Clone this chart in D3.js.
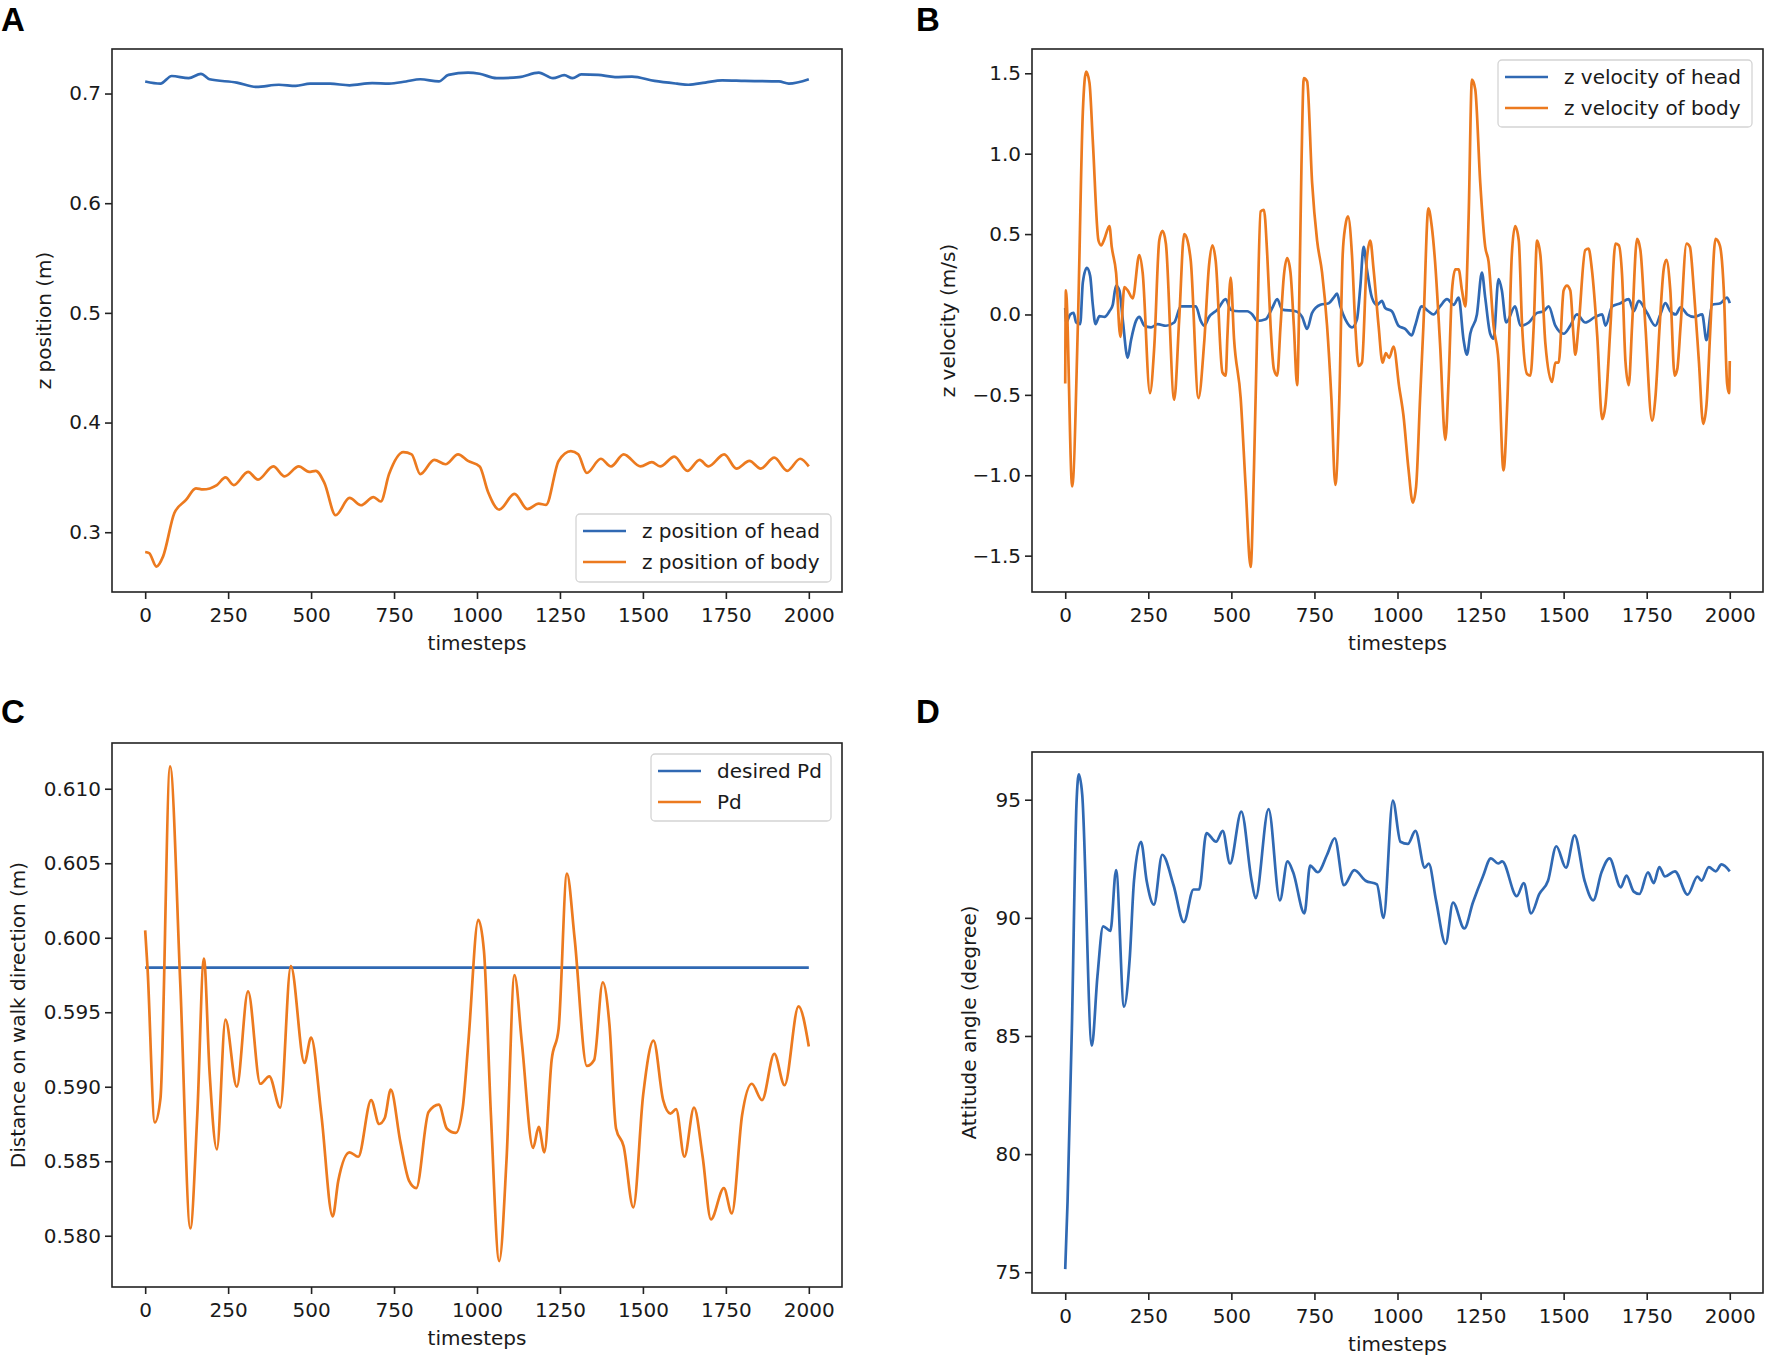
<!DOCTYPE html>
<html>
<head>
<meta charset="utf-8">
<script src="https://cdn.jsdelivr.net/npm/d3@7"></script>
<style>
  body { margin: 0; background: #fff; }
  svg { display: block; }
</style>
</head>
<body>
<div id="fig"></div>
<script>
// ---- data ----
const xTicks = [0, 250, 500, 750, 1000, 1250, 1500, 1750, 2000]

// A: z position
const headPosT = [0, 46, 80, 131, 168, 194, 276, 335, 403, 454, 497, 557, 616, 684, 735, 786, 829, 885, 914, 973, 1008, 1059, 1127, 1186, 1229, 1263, 1288, 1314, 1365, 1416, 1467, 1535, 1603, 1637, 1688, 1739, 1807, 1910, 1940, 2000]
const headPosZ = [0.711, 0.709, 0.716, 0.714, 0.718, 0.713, 0.710, 0.706, 0.708, 0.707, 0.709, 0.709, 0.7075, 0.7095, 0.709, 0.711, 0.713, 0.711, 0.717, 0.719, 0.718, 0.714, 0.715, 0.719, 0.714, 0.7167, 0.714, 0.7175, 0.717, 0.715, 0.7155, 0.7115, 0.709, 0.708, 0.710, 0.712, 0.7115, 0.711, 0.709, 0.713]
const bodyPosT = [0, 12, 34, 54, 88, 123, 153, 174, 216, 242, 267, 310, 340, 386, 420, 463, 494, 514, 540, 574, 616, 650, 688, 710, 735, 778, 803, 829, 871, 905, 943, 973, 1008, 1033, 1067, 1113, 1152, 1186, 1208, 1246, 1283, 1305, 1331, 1373, 1404, 1442, 1493, 1527, 1552, 1595, 1634, 1671, 1697, 1745, 1782, 1821, 1855, 1896, 1935, 1974, 2000]
const bodyPosZ = [0.282, 0.281, 0.2687, 0.278, 0.3175, 0.3294, 0.340, 0.339, 0.343, 0.350, 0.343, 0.355, 0.348, 0.360, 0.351, 0.360, 0.355, 0.356, 0.345, 0.3155, 0.3313, 0.3246, 0.332, 0.328, 0.353, 0.373, 0.371, 0.353, 0.366, 0.362, 0.371, 0.365, 0.360, 0.337, 0.3206, 0.335, 0.321, 0.326, 0.325, 0.365, 0.374, 0.371, 0.354, 0.367, 0.360, 0.371, 0.360, 0.364, 0.360, 0.369, 0.356, 0.366, 0.360, 0.371, 0.358, 0.365, 0.358, 0.368, 0.356, 0.367, 0.360]
const posTicks = [0.3, 0.4, 0.5, 0.6, 0.7]

// B: z velocity
const headVelT = [0, 3, 15, 25, 33, 45, 53, 65, 75, 83, 91, 103, 118, 133, 143, 153, 163, 173, 188, 198, 213, 223, 238, 258, 278, 303, 328, 348, 373, 393, 408, 418, 433, 458, 483, 498, 523, 548, 563, 578, 603, 623, 638, 653, 693, 713, 728, 743, 768, 793, 808, 818, 828, 843, 863, 878, 888, 898, 908, 923, 938, 953, 963, 983, 1003, 1023, 1043, 1053, 1073, 1093, 1108, 1128, 1149, 1169, 1184, 1199, 1209, 1219, 1239, 1254, 1264, 1279, 1289, 1304, 1314, 1327, 1354, 1370, 1395, 1420, 1440, 1455, 1475, 1500, 1520, 1540, 1565, 1595, 1616, 1626, 1646, 1671, 1696, 1711, 1726, 1751, 1776, 1791, 1806, 1821, 1837, 1852, 1872, 1892, 1917, 1930, 1947, 1972, 1992, 2000]
const headVelV = [0.04, -0.05, 0.0, 0.01, -0.05, -0.06, 0.2, 0.29, 0.24, 0.06, -0.06, -0.01, -0.015, 0.02, 0.06, 0.18, 0.15, -0.03, -0.27, -0.16, -0.04, -0.015, -0.07, -0.08, -0.06, -0.07, -0.05, 0.05, 0.05, 0.05, -0.04, -0.07, -0.015, 0.03, 0.095, 0.03, 0.02, 0.02, 0.0, -0.04, -0.03, 0.04, 0.095, 0.03, 0.02, -0.015, -0.09, 0.01, 0.06, 0.07, 0.105, 0.13, 0.05, -0.03, -0.08, -0.03, 0.17, 0.42, 0.28, 0.105, 0.06, 0.085, 0.04, 0.02, -0.07, -0.09, -0.13, -0.07, 0.05, 0.02, 0.0, 0.05, 0.095, 0.06, 0.105, -0.16, -0.25, -0.12, 0.0, 0.26, 0.105, -0.12, -0.15, 0.22, 0.15, -0.05, 0.05, -0.07, -0.05, 0.01, 0.02, 0.05, -0.07, -0.12, -0.07, 0.0, -0.05, -0.015, 0.0, -0.07, 0.05, 0.07, 0.095, 0.02, 0.085, 0.01, -0.07, 0.0, 0.07, 0.02, 0.0, 0.045, 0.0, -0.015, 0.0, -0.16, 0.06, 0.07, 0.105, 0.07]
const bodyVelT = [0, 2, 21, 38, 53, 63, 73, 83, 100, 108, 118, 133, 140, 153, 166, 178, 188, 203, 223, 233, 255, 268, 283, 293, 303, 328, 343, 358, 368, 378, 401, 418, 433, 443, 453, 473, 483, 488, 498, 508, 528, 543, 558, 568, 578, 588, 598, 608, 618, 628, 638, 648, 658, 668, 678, 688, 698, 703, 711, 718, 728, 743, 758, 773, 788, 801, 813, 825, 835, 843, 851, 863, 873, 883, 893, 908, 918, 928, 943, 955, 965, 975, 988, 1005, 1018, 1033, 1046, 1056, 1068, 1078, 1093, 1103, 1113, 1128, 1144, 1154, 1164, 1174, 1184, 1194, 1204, 1214, 1224, 1234, 1249, 1264, 1274, 1289, 1304, 1319, 1331, 1344, 1354, 1365, 1375, 1390, 1400, 1410, 1420, 1430, 1445, 1465, 1475, 1485, 1500, 1510, 1520, 1530, 1535, 1545, 1565, 1575, 1585, 1601, 1616, 1626, 1641, 1656, 1666, 1676, 1686, 1696, 1706, 1721, 1731, 1746, 1766, 1776, 1789, 1801, 1809, 1821, 1834, 1842, 1852, 1870, 1880, 1892, 1907, 1920, 1930, 1942, 1957, 1970, 1982, 1992, 1998, 2000]
const bodyVelV = [-0.43, 0.15, -1.07, -0.07, 1.26, 1.51, 1.44, 1.08, 0.46, 0.43, 0.47, 0.55, 0.42, 0.26, -0.14, 0.17, 0.15, 0.10, 0.37, 0.26, -0.49, -0.20, 0.46, 0.52, 0.44, -0.53, -0.03, 0.50, 0.46, 0.33, -0.52, -0.18, 0.31, 0.43, 0.33, -0.36, -0.38, -0.14, 0.23, -0.15, -0.52, -1.07, -1.57, -0.96, -0.07, 0.64, 0.65, 0.37, -0.07, -0.34, -0.38, -0.07, 0.24, 0.35, 0.26, -0.07, -0.44, -0.07, 0.93, 1.47, 1.45, 0.82, 0.46, 0.26, -0.07, -0.52, -1.06, -0.52, 0.37, 0.55, 0.61, 0.37, -0.07, -0.32, -0.30, 0.35, 0.46, 0.28, -0.07, -0.30, -0.24, -0.27, -0.20, -0.45, -0.63, -0.96, -1.17, -1.07, -0.52, -0.07, 0.66, 0.55, 0.33, -0.18, -0.78, -0.40, 0.15, 0.28, 0.28, 0.15, 0.05, 0.60, 1.46, 1.40, 0.82, 0.42, 0.33, -0.07, -0.29, -0.97, -0.52, 0.37, 0.55, 0.46, -0.07, -0.37, -0.38, -0.07, 0.46, 0.37, -0.18, -0.42, -0.30, -0.30, 0.15, 0.18, 0.15, -0.14, -0.25, -0.07, 0.40, 0.41, 0.28, -0.13, -0.65, -0.56, -0.07, 0.44, 0.43, 0.24, -0.29, -0.44, -0.07, 0.47, 0.40, -0.07, -0.66, -0.52, -0.07, 0.28, 0.34, 0.15, -0.38, -0.34, -0.07, 0.44, 0.42, 0.15, -0.29, -0.68, -0.56, -0.07, 0.47, 0.43, 0.15, -0.43, -0.49, -0.29]
const velTicks = [-1.5, -1.0, -0.5, 0.0, 0.5, 1.0, 1.5]

// C: distance on walk direction
const desiredPdT = [0, 2000]
const desiredPdV = [0.598, 0.598]
const pdT = [0, 7, 29, 46, 75, 106, 136, 157, 177, 194, 216, 242, 276, 310, 347, 374, 407, 439, 480, 500, 531, 565, 582, 616, 642, 681, 705, 722, 740, 769, 795, 817, 854, 885, 909, 936, 957, 974, 1004, 1021, 1042, 1067, 1089, 1113, 1135, 1169, 1186, 1203, 1225, 1246, 1271, 1294, 1331, 1353, 1379, 1399, 1419, 1442, 1471, 1501, 1532, 1561, 1583, 1600, 1625, 1654, 1680, 1705, 1744, 1768, 1799, 1828, 1859, 1896, 1927, 1969, 2000]
const pdV = [0.6005, 0.598, 0.5876, 0.5892, 0.6115, 0.5968, 0.5805, 0.5881, 0.5986, 0.591, 0.5858, 0.5945, 0.590, 0.5964, 0.5902, 0.5907, 0.5886, 0.5981, 0.5916, 0.5933, 0.5881, 0.5813, 0.5837, 0.5856, 0.5853, 0.5891, 0.5875, 0.5879, 0.5898, 0.5863, 0.5837, 0.5832, 0.5883, 0.5888, 0.5872, 0.5869, 0.5886, 0.5930, 0.6012, 0.5991, 0.5881, 0.5783, 0.5851, 0.5975, 0.5930, 0.5859, 0.5873, 0.5856, 0.5918, 0.5939, 0.6043, 0.6000, 0.5914, 0.5918, 0.5970, 0.5942, 0.5872, 0.5860, 0.5819, 0.5895, 0.5931, 0.5891, 0.5882, 0.5885, 0.5853, 0.5886, 0.5853, 0.5811, 0.5832, 0.5815, 0.5881, 0.5902, 0.5891, 0.5922, 0.5901, 0.5954, 0.5927]
const pdTicks = [0.580, 0.585, 0.590, 0.595, 0.600, 0.605, 0.610]

// D: attitude angle
const angleT = [0, 7, 20, 34, 41, 51, 80, 97, 114, 136, 153, 177, 194, 207, 228, 245, 267, 292, 326, 357, 386, 403, 425, 454, 474, 496, 530, 561, 573, 612, 646, 669, 686, 720, 737, 760, 788, 811, 839, 870, 904, 938, 958, 986, 1009, 1031, 1054, 1082, 1094, 1116, 1145, 1167, 1201, 1227, 1257, 1281, 1303, 1315, 1359, 1380, 1402, 1427, 1453, 1478, 1507, 1533, 1563, 1589, 1614, 1638, 1672, 1689, 1711, 1728, 1754, 1771, 1788, 1805, 1835, 1873, 1903, 1915, 1937, 1958, 1975, 2000]
const angleV = [75.13, 77.98, 85.32, 94.87, 96.07, 95.24, 84.59, 87.53, 89.64, 89.45, 92.02, 86.24, 88.26, 91.57, 93.22, 91.57, 90.56, 92.67, 91.38, 89.82, 91.20, 91.20, 93.59, 93.22, 93.68, 92.30, 94.50, 91.57, 90.83, 94.60, 90.74, 92.39, 91.93, 90.19, 92.21, 91.93, 92.67, 93.37, 91.38, 92.02, 91.57, 91.42, 90.00, 94.96, 93.22, 93.13, 93.68, 92.12, 92.30, 90.74, 88.90, 90.65, 89.55, 90.65, 91.75, 92.52, 92.30, 92.39, 90.92, 91.47, 90.19, 91.01, 91.57, 93.03, 92.12, 93.49, 91.57, 90.74, 91.93, 92.52, 91.29, 91.79, 91.11, 91.01, 91.93, 91.47, 92.15, 91.75, 91.97, 90.98, 91.75, 91.57, 92.15, 91.97, 92.26, 91.97]
const angleTicks = [75, 80, 85, 90, 95]

const blue = "#3069b3"
const orange = "#ec7a1f"
const font = "DejaVu Sans, sans-serif"
const fs = 20

const zip = (ts, vs) => ts.map((t, i) => [t, vs[i]])

const panels = [
    {
        letter: "A", lx: 1, ly: 31,
        left: 112, right: 842, top: 49, bottom: 592,
        yDomain: [0.2455, 0.7406], yTicks: posTicks, yFmt: d3.format(".1f"),
        ylabel: "z position (m)", ylabelX: 51,
        series: [
            { name: "z position of head", data: zip(headPosT, headPosZ), color: blue },
            { name: "z position of body", data: zip(bodyPosT, bodyPosZ), color: orange }
        ],
        legend: { x: 576, y: 514, w: 255, h: 68 }
    },
    {
        letter: "B", lx: 916, ly: 31,
        left: 1032, right: 1763, top: 49, bottom: 592,
        yDomain: [-1.726, 1.651], yTicks: velTicks, yFmt: d3.format(".1f"),
        ylabel: "z velocity (m/s)", ylabelX: 955,
        series: [
            { name: "z velocity of head", data: zip(headVelT, headVelV), color: blue },
            { name: "z velocity of body", data: zip(bodyVelT, bodyVelV), color: orange }
        ],
        legend: { x: 1498, y: 60, w: 254, h: 67 }
    },
    {
        letter: "C", lx: 1, ly: 723,
        left: 112, right: 842, top: 743, bottom: 1287,
        yDomain: [0.57656, 0.61307], yTicks: pdTicks, yFmt: d3.format(".3f"),
        ylabel: "Distance on walk direction (m)", ylabelX: 25,
        series: [
            { name: "desired Pd", data: zip(desiredPdT, desiredPdV), color: blue },
            { name: "Pd", data: zip(pdT, pdV), color: orange }
        ],
        legend: { x: 651, y: 754, w: 180, h: 67 }
    },
    {
        letter: "D", lx: 916, ly: 723,
        left: 1032, right: 1763, top: 752, bottom: 1293,
        yDomain: [74.12, 97.02], yTicks: angleTicks, yFmt: d3.format("d"),
        ylabel: "Attitude angle (degree)", ylabelX: 976,
        series: [
            { name: "attitude", data: zip(angleT, angleV), color: blue }
        ],
        legend: null
    }
]

const svg = d3.select("#fig").append("svg")
    .attr("width", 1772)
    .attr("height", 1362)
    .style("font-family", font)

const drawPanel = (p, idx) => {
    let x = d3.scaleLinear().domain([-100, 2100]).range([p.left, p.right])
    let y = d3.scaleLinear().domain(p.yDomain).range([p.bottom, p.top])

    let g = svg.append("g")

    g.append("clipPath").attr("id", "clip" + idx)
        .append("rect")
        .attr("x", p.left).attr("y", p.top)
        .attr("width", p.right - p.left).attr("height", p.bottom - p.top)

    // curves
    let line = d3.line()
        .x(d => x(d[0]))
        .y(d => y(d[1]))
        .curve(d3.curveMonotoneX)

    p.series.forEach(s => {
        g.append("path")
            .datum(s.data)
            .attr("clip-path", "url(#clip" + idx + ")")
            .attr("d", line)
            .attr("fill", "none")
            .attr("stroke", s.color)
            .attr("stroke-width", 2.7)
            .attr("stroke-linejoin", "round")
    })

    // x axis
    let xa = g.append("g")
        .attr("transform", "translate(0," + p.bottom + ")")
        .call(d3.axisBottom(x).tickValues(xTicks).tickSize(7).tickPadding(9)
            .tickFormat(d3.format("d")))
    // y axis
    let ya = g.append("g")
        .attr("transform", "translate(" + p.left + ",0)")
        .call(d3.axisLeft(y).tickValues(p.yTicks).tickSize(7).tickPadding(4)
            .tickFormat(d => p.yFmt(d).replace("-", "\u2212")))

    ;[xa, ya].forEach(a => {
        a.select(".domain").remove()
        a.attr("font-family", font).attr("font-size", fs)
        a.selectAll("line").attr("stroke", "#222").attr("stroke-width", 1.6)
        a.selectAll("text").attr("fill", "#1a1a1a")
    })

    // frame
    g.append("rect")
        .attr("x", p.left).attr("y", p.top)
        .attr("width", p.right - p.left).attr("height", p.bottom - p.top)
        .attr("fill", "none")
        .attr("stroke", "#222")
        .attr("stroke-width", 1.6)

    // labels
    g.append("text")
        .attr("x", (p.left + p.right) / 2)
        .attr("y", p.bottom + 58)
        .attr("text-anchor", "middle")
        .attr("font-size", fs)
        .attr("fill", "#1a1a1a")
        .text("timesteps")

    g.append("text")
        .attr("transform", "translate(" + p.ylabelX + "," + (p.top + p.bottom) / 2 + ") rotate(-90)")
        .attr("text-anchor", "middle")
        .attr("font-size", fs)
        .attr("fill", "#1a1a1a")
        .text(p.ylabel)

    g.append("text")
        .attr("x", p.lx).attr("y", p.ly)
        .attr("font-family", "Liberation Sans, Arial, sans-serif")
        .attr("font-weight", "bold")
        .attr("font-size", 33)
        .attr("fill", "#000")
        .text(p.letter)

    // legend
    if (p.legend) {
        let L = p.legend
        let lg = g.append("g")
        lg.append("rect")
            .attr("x", L.x).attr("y", L.y)
            .attr("width", L.w).attr("height", L.h)
            .attr("rx", 4)
            .attr("fill", "#fff")
            .attr("fill-opacity", 0.85)
            .attr("stroke", "#d4d4d4")
            .attr("stroke-width", 1.3)
        p.series.forEach((s, i) => {
            let cy = L.y + 17 + i * 31
            lg.append("line")
                .attr("x1", L.x + 7).attr("x2", L.x + 50)
                .attr("y1", cy).attr("y2", cy)
                .attr("stroke", s.color)
                .attr("stroke-width", 2.7)
            lg.append("text")
                .attr("x", L.x + 66).attr("y", cy + 7)
                .attr("font-size", fs)
                .attr("fill", "#1a1a1a")
                .text(s.name)
        })
    }
}

panels.forEach(drawPanel)
</script>
</body>
</html>
